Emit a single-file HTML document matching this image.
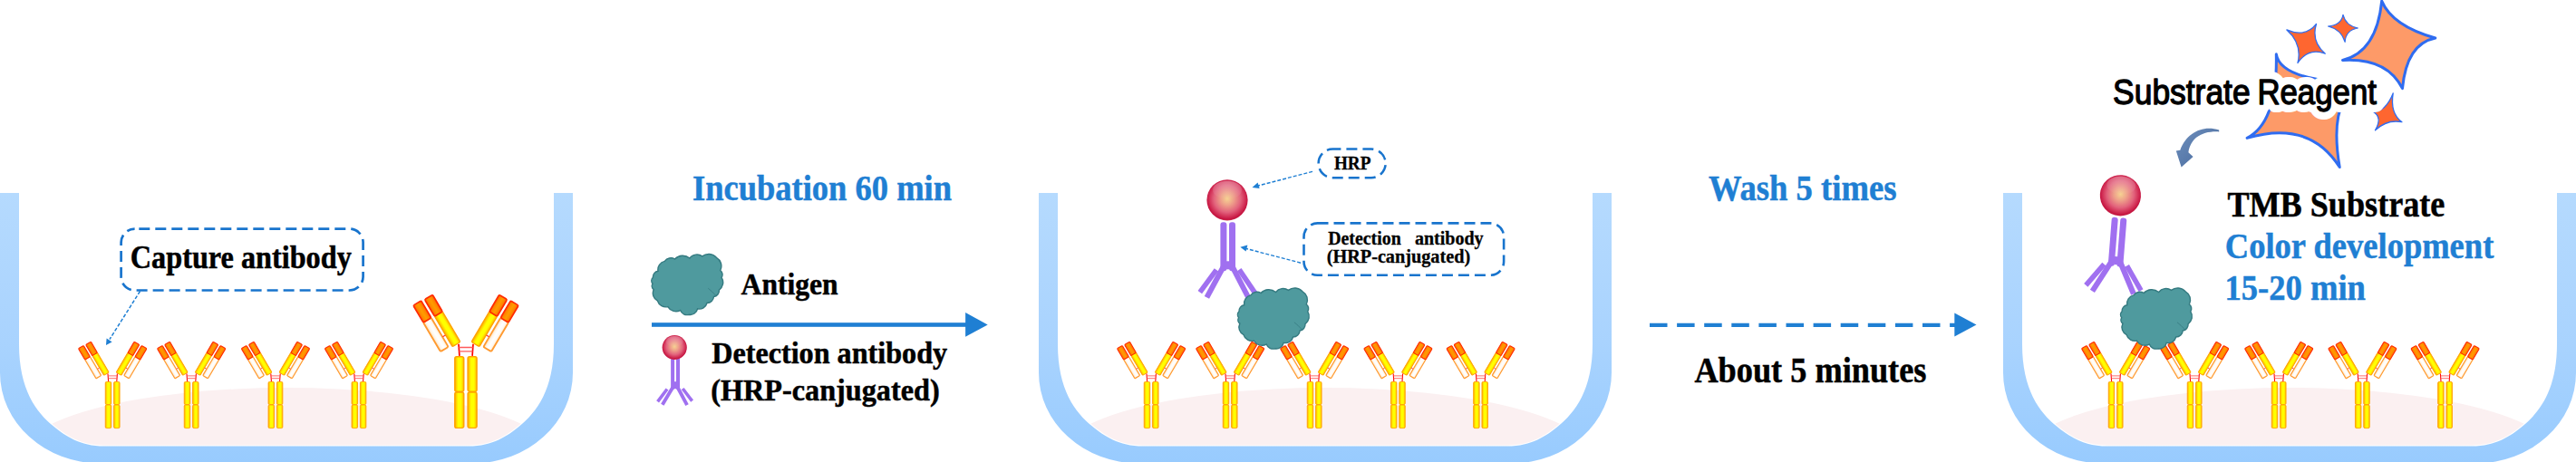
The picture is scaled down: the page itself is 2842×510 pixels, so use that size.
<!DOCTYPE html>
<html><head><meta charset="utf-8"><title>ELISA steps</title>
<style>html,body{margin:0;padding:0;background:#fff;width:2842px;height:510px;overflow:hidden}svg{display:block}</style>
</head><body>
<svg width="2842" height="510" viewBox="0 0 2842 510"><defs><linearGradient id="wallg" x1="0" y1="0" x2="0" y2="1">
<stop offset="0" stop-color="#b5dafe"/><stop offset="0.55" stop-color="#a9d3fe"/><stop offset="1" stop-color="#98cbfe"/></linearGradient><linearGradient id="gy" x1="0" y1="0" x2="1" y2="0">
<stop offset="0" stop-color="#ffa000"/><stop offset="0.18" stop-color="#ffd400"/><stop offset="0.38" stop-color="#ffff00"/><stop offset="0.68" stop-color="#ffff00"/><stop offset="0.86" stop-color="#ffd800"/><stop offset="1" stop-color="#ffa800"/></linearGradient><linearGradient id="go" x1="0" y1="0" x2="1" y2="0">
<stop offset="0" stop-color="#ff6a00"/><stop offset="0.25" stop-color="#ff8a00"/><stop offset="0.5" stop-color="#ff9c00"/><stop offset="0.75" stop-color="#ff8a00"/><stop offset="1" stop-color="#ff6a00"/></linearGradient><linearGradient id="gw" x1="0" y1="0" x2="1" y2="0">
<stop offset="0" stop-color="#ffd9a8"/><stop offset="0.25" stop-color="#fff6ea"/><stop offset="0.5" stop-color="#ffffff"/><stop offset="0.75" stop-color="#fffaf2"/><stop offset="1" stop-color="#ffe6c8"/></linearGradient><radialGradient id="hrp" cx="0.5" cy="0.47" r="0.53" fx="0.5" fy="0.47">
<stop offset="0" stop-color="#f6d292"/><stop offset="0.3" stop-color="#eea08a"/><stop offset="0.62" stop-color="#e2627c"/><stop offset="0.85" stop-color="#d02a52"/><stop offset="0.95" stop-color="#c41440"/><stop offset="1" stop-color="#cc3050"/></radialGradient><linearGradient id="gloss" x1="0" y1="0" x2="0" y2="1">
<stop offset="0" stop-color="#fff" stop-opacity="0.28"/><stop offset="1" stop-color="#fff" stop-opacity="0"/></linearGradient><linearGradient id="carr" x1="0" y1="0" x2="1" y2="1">
<stop offset="0" stop-color="#6f90bd"/><stop offset="1" stop-color="#45679b"/></linearGradient><g id="ab"><g transform="translate(-6.6,-60) rotate(-30.5)"><rect x="-3.3" y="-26" width="6.6" height="25.6" rx="1" fill="url(#gy)" stroke="#ffa200" stroke-width="0.9"/><rect x="-3.3" y="-39.6" width="6.6" height="14" rx="1" fill="url(#go)" stroke="#ff2a00" stroke-width="1.1"/><rect x="-12.5" y="-26" width="6.6" height="24.3" rx="1" fill="url(#gw)" stroke="#ff9a30" stroke-width="1.2"/><rect x="-12.5" y="-40.1" width="6.6" height="14.2" rx="1" fill="url(#go)" stroke="#ff2a00" stroke-width="1.1"/><line x1="-5.7" y1="-10" x2="-3.5" y2="-10" stroke="#ff3030" stroke-width="0.8"/></g><g transform="translate(6.6,-60) rotate(30.5)"><rect x="-3.3" y="-26" width="6.6" height="25.6" rx="1" fill="url(#gy)" stroke="#ffa200" stroke-width="0.9"/><rect x="-3.3" y="-39.6" width="6.6" height="14" rx="1" fill="url(#go)" stroke="#ff2a00" stroke-width="1.1"/><rect x="5.9" y="-26" width="6.6" height="24.3" rx="1" fill="url(#gw)" stroke="#ff9a30" stroke-width="1.2"/><rect x="5.9" y="-40.1" width="6.6" height="14.2" rx="1" fill="url(#go)" stroke="#ff2a00" stroke-width="1.1"/><line x1="3.5" y1="-10" x2="5.7" y2="-10" stroke="#ff3030" stroke-width="0.8"/></g><path d="M-5.2,-60.5 L-4.6,-52 M5.2,-60.5 L4.6,-52" stroke="#ff0000" stroke-width="1.1" fill="none"/><path d="M-5,-58.1 H5 M-4.8,-55.3 H4.8" stroke="#ff5a5a" stroke-width="0.9" fill="none"/><rect x="-7.95" y="-51.5" width="6.5" height="25.0" rx="1.3" fill="url(#gy)" stroke="#ffa200" stroke-width="0.9"/><rect x="-7.95" y="-26.0" width="6.5" height="25.6" rx="1.3" fill="url(#gy)" stroke="#ffa200" stroke-width="0.9"/><rect x="1.35" y="-51.5" width="6.5" height="25.0" rx="1.3" fill="url(#gy)" stroke="#ffa200" stroke-width="0.9"/><rect x="1.35" y="-26.0" width="6.5" height="25.6" rx="1.3" fill="url(#gy)" stroke="#ffa200" stroke-width="0.9"/></g><g id="blob"><path d="M6.4,31.2 A6.44,6.44 0 0 1 12.0,24.3 A9.51,9.51 0 0 1 19.3,13.4 A8.30,8.30 0 0 1 30.5,11.0 A12.15,12.15 0 0 1 46.9,10.0 A10.19,10.19 0 0 1 60.8,7.9 A11.36,11.36 0 0 1 76.4,9.3 A10.76,10.76 0 0 1 80.7,23.5 A5.75,5.75 0 0 1 82.1,31.3 A10.19,10.19 0 0 1 79.4,45.1 A6.86,6.86 0 0 1 73.5,52.5 A7.44,7.44 0 0 1 66.0,59.5 A8.85,8.85 0 0 1 55.6,65.9 A8.30,8.30 0 0 1 46.1,72.3 A7.68,7.68 0 0 1 36.6,67.6 A10.42,10.42 0 0 1 22.8,63.6 A9.42,9.42 0 0 1 11.5,57.2 A9.65,9.65 0 0 1 7.2,44.6 A4.72,4.72 0 0 1 6.0,38.2 A5.08,5.08 0 0 1 6.4,31.2Z" fill="#4f9a9e" stroke="#347a80" stroke-width="1.4"/><path d="M67.3,43.3 Q71,46 76,51.5" stroke="#3b8187" stroke-width="1" fill="none"/></g><g id="det"><rect x="-7.6" y="24.5" width="7" height="54" rx="3" fill="#a070f0"/><rect x="2" y="24.5" width="7" height="54" rx="3" fill="#a070f0"/><rect x="-1" y="67.5" width="3.5" height="9" fill="#a070f0"/><rect x="-3.0" y="0" width="6.0" height="39.28" fill="#a070f0" transform="translate(-4.0,73) rotate(28.26)"/><rect x="-3.0" y="0" width="6.0" height="38.46" fill="#a070f0" transform="translate(5.4,73) rotate(-27.23)"/><rect x="-2.8" y="0" width="5.6" height="30.76" fill="#a070f0" transform="translate(-12.0,77.0) rotate(36.27)"/><rect x="-2.8" y="0" width="5.6" height="31.40" fill="#a070f0" transform="translate(13.2,76.8) rotate(-34.09)"/><circle cx="0" cy="0" r="22.6" fill="url(#hrp)"/><ellipse cx="0" cy="-11" rx="16" ry="10" fill="url(#gloss)"/></g><marker id="ah" viewBox="0 0 10 10" refX="1" refY="5" markerWidth="4" markerHeight="4" orient="auto-start-reverse"><path d="M0,0 L10,5 L0,10Z" fill="#1f7fd3"/></marker></defs><clipPath id="clip0"><path d="M21,213 V380 C21,430 40,455 59,470.5 C72,481 88,492.6 115,492.6 H517 C544,492.6 560,481 573,470.5 C592,455 611,430 611,380 V213 Z"/></clipPath><ellipse cx="316" cy="502" rx="292" ry="74" fill="#fbf0f1" clip-path="url(#clip0)"/><path d="M21,213 V380 C21,430 40,455 59,470.5 C72,481 88,492.6 115,492.6 H517 C544,492.6 560,481 573,470.5 C592,455 611,430 611,380 V213 Z" fill="none" stroke="#fff" stroke-width="2.2"/><path d="M0,213 V411.4 A110,100 0 0 0 110,511.4 H522 A110,100 0 0 0 632,411.4 V213 Z M21,213 V380 C21,430 40,455 59,470.5 C72,481 88,492.6 115,492.6 H517 C544,492.6 560,481 573,470.5 C592,455 611,430 611,380 V213 Z" fill="url(#wallg)" fill-rule="evenodd"/>
<clipPath id="clip1146"><path d="M1167,213 V380 C1167,430 1186,455 1205,470.5 C1218,481 1234,492.6 1261,492.6 H1663 C1690,492.6 1706,481 1719,470.5 C1738,455 1757,430 1757,380 V213 Z"/></clipPath><ellipse cx="1462" cy="502" rx="292" ry="74" fill="#fbf0f1" clip-path="url(#clip1146)"/><path d="M1167,213 V380 C1167,430 1186,455 1205,470.5 C1218,481 1234,492.6 1261,492.6 H1663 C1690,492.6 1706,481 1719,470.5 C1738,455 1757,430 1757,380 V213 Z" fill="none" stroke="#fff" stroke-width="2.2"/><path d="M1146,213 V411.4 A110,100 0 0 0 1256,511.4 H1668 A110,100 0 0 0 1778,411.4 V213 Z M1167,213 V380 C1167,430 1186,455 1205,470.5 C1218,481 1234,492.6 1261,492.6 H1663 C1690,492.6 1706,481 1719,470.5 C1738,455 1757,430 1757,380 V213 Z" fill="url(#wallg)" fill-rule="evenodd"/>
<clipPath id="clip2210"><path d="M2231,213 V380 C2231,430 2250,455 2269,470.5 C2282,481 2298,492.6 2325,492.6 H2727 C2754,492.6 2770,481 2783,470.5 C2802,455 2821,430 2821,380 V213 Z"/></clipPath><ellipse cx="2526" cy="502" rx="292" ry="74" fill="#fbf0f1" clip-path="url(#clip2210)"/><path d="M2231,213 V380 C2231,430 2250,455 2269,470.5 C2282,481 2298,492.6 2325,492.6 H2727 C2754,492.6 2770,481 2783,470.5 C2802,455 2821,430 2821,380 V213 Z" fill="none" stroke="#fff" stroke-width="2.2"/><path d="M2210,213 V411.4 A110,100 0 0 0 2320,511.4 H2732 A110,100 0 0 0 2842,411.4 V213 Z M2231,213 V380 C2231,430 2250,455 2269,470.5 C2282,481 2298,492.6 2325,492.6 H2727 C2754,492.6 2770,481 2783,470.5 C2802,455 2821,430 2821,380 V213 Z" fill="url(#wallg)" fill-rule="evenodd"/>
<use href="#ab" transform="translate(124.2,473)"/>
<use href="#ab" transform="translate(211.2,473)"/>
<use href="#ab" transform="translate(304,473)"/>
<use href="#ab" transform="translate(396,473)"/>
<use href="#ab" transform="translate(514,473) scale(1.54)"/>
<use href="#ab" transform="translate(1270.2,473)"/>
<use href="#ab" transform="translate(1357.2,473)"/>
<use href="#ab" transform="translate(1450.2,473)"/>
<use href="#ab" transform="translate(1542.4,473)"/>
<use href="#ab" transform="translate(1633.6,473)"/>
<use href="#ab" transform="translate(2334.2,473)"/>
<use href="#ab" transform="translate(2421.2,473)"/>
<use href="#ab" transform="translate(2514.2,473)"/>
<use href="#ab" transform="translate(2606.4,473)"/>
<use href="#ab" transform="translate(2697.6,473)"/>
<rect x="133.6" y="252.6" width="267" height="67.9" rx="15" fill="none" stroke="#1874cd" stroke-width="2.7" stroke-dasharray="12 6" stroke-dashoffset="13.3"/>
<line x1="154.5" y1="321.5" x2="121" y2="374.5" stroke="#1f7fd3" stroke-width="1.5" stroke-dasharray="4 2"/>
<path d="M117,381 L117.6,373.6 L123.6,377.4Z" fill="#1f7fd3"/>
<text x="143.8" y="295.7" font-family="Liberation Serif" font-weight="bold" font-size="35" fill="#000" textLength="244.0" lengthAdjust="spacingAndGlyphs" stroke="#000" stroke-width="0.5" >Capture antibody</text>
<text x="764.0" y="220.9" font-family="Liberation Serif" font-weight="bold" font-size="39.5" fill="#1f7fd3" textLength="286.0" lengthAdjust="spacingAndGlyphs" stroke="#1f7fd3" stroke-width="0.5" >Incubation 60 min</text>
<use href="#blob" transform="translate(714,275)"/>
<text x="817.6" y="324.6" font-family="Liberation Serif" font-weight="bold" font-size="34.5" fill="#000" textLength="107.0" lengthAdjust="spacingAndGlyphs" stroke="#000" stroke-width="0.5" >Antigen</text>
<rect x="719" y="356.2" width="348" height="4.6" fill="#1f7fd3"/>
<path d="M1065.1,345 L1089.7,358.4 L1065.1,371.8Z" fill="#1f7fd3"/>
<g transform="translate(744.2,383.5)"><rect x="-4.1" y="11.5" width="4" height="35" rx="1.6" fill="#a070f0"/><rect x="1.8" y="11.5" width="4" height="35" rx="1.6" fill="#a070f0"/><rect x="-0.5" y="37.7" width="2.6" height="8" fill="#a070f0"/><rect x="-1.95" y="0" width="3.9" height="21.80" fill="#a070f0" transform="translate(-2.2,44.5) rotate(30.92)"/><rect x="-1.95" y="0" width="3.9" height="21.65" fill="#a070f0" transform="translate(3.6,44.5) rotate(-28.10)"/><rect x="-1.8" y="0" width="3.6" height="17.28" fill="#a070f0" transform="translate(-8.2,46.0) rotate(37.00)"/><rect x="-1.8" y="0" width="3.6" height="17.20" fill="#a070f0" transform="translate(9.0,45.5) rotate(-37.20)"/><circle cx="0" cy="0" r="13.6" fill="url(#hrp)"/><ellipse cx="0" cy="-6.6" rx="9.6" ry="6" fill="url(#gloss)"/></g>
<text x="785.2" y="401.0" font-family="Liberation Serif" font-weight="bold" font-size="33" fill="#000" textLength="260.0" lengthAdjust="spacingAndGlyphs" stroke="#000" stroke-width="0.5" >Detection antibody</text>
<text x="784.2" y="442.2" font-family="Liberation Serif" font-weight="bold" font-size="33" fill="#000" textLength="252.5" lengthAdjust="spacingAndGlyphs" stroke="#000" stroke-width="0.5" >(HRP-canjugated)</text>
<use href="#det" transform="translate(1354,220.8)"/>
<use href="#blob" transform="translate(1360.6,312.5)"/>
<rect x="1454.6" y="164.6" width="74.1" height="31.6" rx="15.8" fill="none" stroke="#1874cd" stroke-width="2.5" stroke-dasharray="12 6" stroke-dashoffset="3"/>
<text x="1471.9" y="187.3" font-family="Liberation Serif" font-weight="bold" font-size="21" fill="#000" textLength="40.5" lengthAdjust="spacingAndGlyphs" stroke="#000" stroke-width="0.3" >HRP</text>
<line x1="1448" y1="189.4" x2="1388" y2="205" stroke="#1f7fd3" stroke-width="1.4" stroke-dasharray="4 2"/>
<path d="M1381.5,207 L1387.6,201.6 L1389.6,208Z" fill="#1f7fd3"/>
<rect x="1438.5" y="246.4" width="220.6" height="57.4" rx="15" fill="none" stroke="#1874cd" stroke-width="2.6" stroke-dasharray="12 6" stroke-dashoffset="0"/>
<text x="1465.2" y="269.6" font-family="Liberation Serif" font-weight="bold" font-size="20.5" fill="#000" textLength="80.5" lengthAdjust="spacingAndGlyphs" stroke="#000" stroke-width="0.3" >Detection</text>
<text x="1561.0" y="269.6" font-family="Liberation Serif" font-weight="bold" font-size="20.5" fill="#000" textLength="75.5" lengthAdjust="spacingAndGlyphs" stroke="#000" stroke-width="0.3" >antibody</text>
<text x="1463.7" y="290.0" font-family="Liberation Serif" font-weight="bold" font-size="20.5" fill="#000" textLength="158.5" lengthAdjust="spacingAndGlyphs" stroke="#000" stroke-width="0.3" >(HRP-canjugated)</text>
<line x1="1435" y1="290.2" x2="1375" y2="274.5" stroke="#1f7fd3" stroke-width="1.4" stroke-dasharray="4 2"/>
<path d="M1368.4,272.7 L1376.4,270.6 L1374.6,277.6Z" fill="#1f7fd3"/>
<text x="1884.9" y="221.0" font-family="Liberation Serif" font-weight="bold" font-size="39.5" fill="#1f7fd3" textLength="207.5" lengthAdjust="spacingAndGlyphs" stroke="#1f7fd3" stroke-width="0.5" >Wash 5 times</text>
<line x1="1820" y1="358.9" x2="2157" y2="358.9" stroke="#1f7fd3" stroke-width="4.4" stroke-dasharray="19.5 10.6"/>
<path d="M2156.3,345.5 L2180.5,358.6 L2156.3,371.6Z" fill="#1f7fd3"/>
<text x="1869.4" y="421.7" font-family="Liberation Serif" font-weight="bold" font-size="39.5" fill="#000" textLength="256.0" lengthAdjust="spacingAndGlyphs" stroke="#000" stroke-width="0.5" >About 5 minutes</text>
<use href="#det" transform="translate(2339.4,215.8) rotate(4.5)"/>
<use href="#blob" transform="translate(2334.7,312.5)"/>
<path d="M2627.7,1.1 Q2639.2,28.5 2686.8,42 Q2655,48.4 2650.5,97.7 Q2633.5,63.4 2584.5,66.4 Q2622.1,57.2 2627.7,1.1Z" fill="#fd9a68" stroke="#2f6cf0" stroke-width="3" stroke-linejoin="round"/>
<path d="M2511.3,59.7 Q2516,90 2608,92 Q2568,106 2581.2,184.5 Q2548,132 2479.1,152.4 Q2513,135 2511.3,59.7Z" fill="#fd9a68" stroke="#2f6cf0" stroke-width="3" stroke-linejoin="round"/>
<path d="M2522.9,32.9 Q2543.3,41.8 2555.5,26.4 Q2549.6,45.7 2565.3,59.2 Q2546.5,52.2 2535,69.5 Q2540.2,48.3 2522.9,32.9Z" fill="#fe6630" stroke="#2f6cf0" stroke-width="1.3" stroke-linejoin="round"/>
<path d="M2585,16.2 Q2587.8,28.4 2601.4,31 Q2588.1,33.0 2587.1,46.4 Q2583.2,32.7 2568.5,29 Q2582.9,28.1 2585,16.2Z" fill="#fe6630" stroke="#2f6cf0" stroke-width="1.1" stroke-linejoin="round"/>
<path d="M2640.2,102.9 Q2636.6,125.2 2650,134.7 Q2633.7,131.4 2620.5,143.8 Q2628.9,129.7 2618.2,123.3 Q2631.9,123.5 2640.2,102.9Z" fill="#fe6630" stroke="#2f6cf0" stroke-width="1.3" stroke-linejoin="round"/>
<text x="2331.1" y="114.6" font-family="Liberation Sans" font-weight="normal" font-size="38" fill="#fff" stroke="#fff" stroke-width="18" stroke-linejoin="round" textLength="151.5" lengthAdjust="spacingAndGlyphs">Substrate</text>
<text x="2490.4" y="114.6" font-family="Liberation Sans" font-weight="normal" font-size="38" fill="#fff" stroke="#fff" stroke-width="18" stroke-linejoin="round" textLength="131.5" lengthAdjust="spacingAndGlyphs">Reagent</text>
<text x="2331.1" y="114.6" font-family="Liberation Sans" font-weight="normal" font-size="38" fill="#000" stroke="#000" stroke-width="1.3" stroke-linejoin="round" textLength="151.5" lengthAdjust="spacingAndGlyphs">Substrate</text>
<text x="2490.4" y="114.6" font-family="Liberation Sans" font-weight="normal" font-size="38" fill="#000" stroke="#000" stroke-width="1.3" stroke-linejoin="round" textLength="131.5" lengthAdjust="spacingAndGlyphs">Reagent</text>
<path d="M2448.2,143.6 C2430,137.5 2412,147 2405.3,165.7 L2400.8,166.4 L2406.6,184.5 L2419.6,172.9 L2414.4,168.3 C2417,153 2428,144.5 2448.2,145.4Z" fill="url(#carr)"/>
<text x="2457.4" y="239.0" font-family="Liberation Serif" font-weight="bold" font-size="39.5" fill="#000" textLength="240.0" lengthAdjust="spacingAndGlyphs" stroke="#000" stroke-width="0.5" >TMB Substrate</text>
<text x="2454.8" y="285.0" font-family="Liberation Serif" font-weight="bold" font-size="39.5" fill="#1f7fd3" textLength="296.5" lengthAdjust="spacingAndGlyphs" stroke="#1f7fd3" stroke-width="0.5" >Color development</text>
<text x="2454.4" y="330.5" font-family="Liberation Serif" font-weight="bold" font-size="39.5" fill="#1f7fd3" textLength="155.5" lengthAdjust="spacingAndGlyphs" stroke="#1f7fd3" stroke-width="0.5" >15-20 min</text></svg>
</body></html>
